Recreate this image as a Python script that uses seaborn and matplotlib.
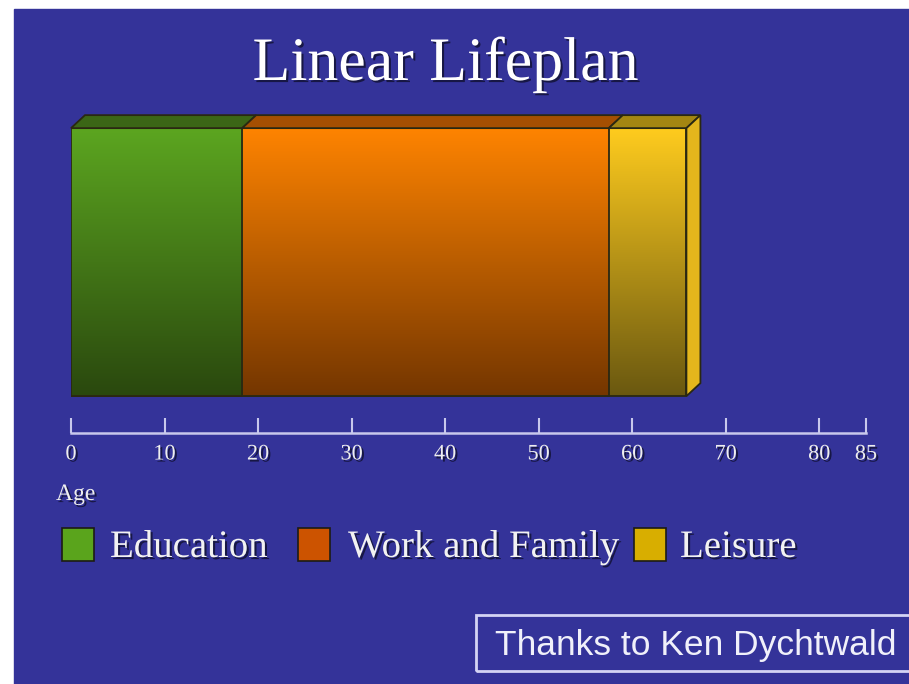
import numpy as np
import pandas as pd
import matplotlib
matplotlib.use('Agg')
import matplotlib.pyplot as plt
import matplotlib.patheffects as pe
from matplotlib.patches import Rectangle, Polygon
from matplotlib.colors import LinearSegmentedColormap
import seaborn as sns

# ---------------------------------------------------------------------------
# Data
# ---------------------------------------------------------------------------
stages = ['Education', 'Work and Family', 'Leisure']
years = [18.3, 39.2, 8.3]                 # length of each stage
tick_ages = [0, 10, 20, 30, 40, 50, 60, 70, 80, 85]
age_max = 85

top_colors = ['#5ca620', '#ff8400', '#ffcc1e']
bottom_colors = ['#2a480e', '#743600', '#6a5810']
lid_colors = ['#3b6616', '#a54f02', '#a48612']
legend_colors = ['#5aa41c', '#cc5300', '#d8ae00']
side_color = '#e4b61c'
edge_color = '#2a2812'
bg_blue = '#343399'
line_col = '#c8c8ec'

ends = np.cumsum(years)
starts = ends - np.array(years)

sns.set_style('white')
plt.rcParams['font.family'] = ['Liberation Serif', 'DejaVu Serif']

W, H = 909, 684
fig = plt.figure(figsize=(W / 100, H / 100), dpi=100, facecolor='white')
fig.add_artist(Rectangle((14 / W, 0), (W - 14) / W, (H - 9) / H,
                         transform=fig.transFigure, color=bg_blue, zorder=-10))

shadow = [pe.SimplePatchShadow(offset=(1.5, -1.5), shadow_rgbFace='black', alpha=0.55),
          pe.Normal()]

ax = fig.add_axes([71 / W, 1 - 433 / H, 795 / W, 333 / H])
ax.patch.set_visible(False)

# stacked bar: draw cumulative ends, longest first, shorter ones on top
df = pd.DataFrame({'stage': stages, 'end': ends, 'row': 'life'})
sns.barplot(data=df, x='end', y='row', hue='stage', hue_order=stages[::-1],
            palette=dict(zip(stages, legend_colors)), dodge=False, width=0.8,
            errorbar=None, legend=False, orient='h', ax=ax,
            edgecolor=edge_color, linewidth=1.3)

ax.set_xlim(0, age_max)
ax.set_ylim(-0.51, 0.484)

grad = np.linspace(0, 1, 256).reshape(-1, 1)
for patch in list(ax.patches):
    i = int(np.argmin(np.abs(ends - (patch.get_x() + patch.get_width()))))
    x0, w = patch.get_x(), patch.get_width()
    y0, h = patch.get_y(), patch.get_height()
    cmap = LinearSegmentedColormap.from_list('g%d' % i, [bottom_colors[i], top_colors[i]])
    z = 3 - i
    im = ax.imshow(grad, extent=[x0, x0 + w, y0, y0 + h], origin='lower',
                   cmap=cmap, aspect='auto', zorder=z)
    im.set_clip_path(patch)
    patch.set_facecolor('none')
    patch.set_zorder(z + 0.5)

ax.set_xlim(0, age_max)
ax.set_ylim(-0.51, 0.484)

# 3D lid and side face, depth given in pixels
dx = 14 * age_max / 795
dy = 13 * 0.994 / 333
bar_top, bar_bot = 0.4, -0.4
for s, e, c in zip(starts, ends, lid_colors):
    ax.add_patch(Polygon([(s, bar_top), (e, bar_top), (e + dx, bar_top + dy),
                          (s + dx, bar_top + dy)], closed=True, fc=c,
                         ec=edge_color, lw=1.3, clip_on=False, zorder=5))
e = ends[-1]
ax.add_patch(Polygon([(e, bar_bot), (e + dx, bar_bot + dy), (e + dx, bar_top + dy),
                      (e, bar_top)], closed=True, fc=side_color, ec=edge_color,
                     lw=1.3, clip_on=False, zorder=5))

# age axis
for sp in ['top', 'left', 'right']:
    ax.spines[sp].set_visible(False)
ax.spines['bottom'].set_color(line_col)
ax.spines['bottom'].set_linewidth(1.8)
ax.yaxis.set_visible(False)
ax.set_xlabel('')
ax.set_xticks(tick_ages)
ax.set_xticklabels([str(t) for t in tick_ages])
ax.tick_params(axis='x', bottom=True, direction='in', length=11, width=1.5,
               color=line_col, labelsize=16, labelcolor='#eeeeee', pad=9)
for lab in ax.get_xticklabels():
    lab.set_path_effects(shadow)

fig.text(56 / W, 1 - 500 / H, 'Age', fontsize=17, color='#eeeeee',
         va='baseline', path_effects=shadow)

fig.text(445 / W, 1 - 80 / H, 'Linear Lifeplan', fontsize=44.5, color='white',
         ha='center', va='baseline', path_effects=shadow)

# legend
sq_x = [62, 298, 634]
txt_x = [110, 348, 680]
for name, c, sx, tx in zip(stages, legend_colors, sq_x, txt_x):
    fig.add_artist(Rectangle((sx / W, 1 - 561 / H), 32 / W, 33 / H,
                             transform=fig.transFigure, fc=c, ec='#1c1c14', lw=1.2))
    fig.text(tx / W, 1 - 557 / H, name, fontsize=28, color='#f2f2f2',
             va='baseline', path_effects=shadow)

# credit box
fig.add_artist(Rectangle((476 / W, 1 - 671 / H), 440 / W, 56 / H,
                         transform=fig.transFigure, fill=False, ec='#d4d4f4', lw=2))
fig.text(495 / W, 1 - 655 / H, 'Thanks to Ken Dychtwald', fontsize=25.5,
         family=['Liberation Sans', 'DejaVu Sans'], color='#f0f0fa', va='baseline')

fig.savefig('out.png', dpi=100, facecolor=fig.get_facecolor())
